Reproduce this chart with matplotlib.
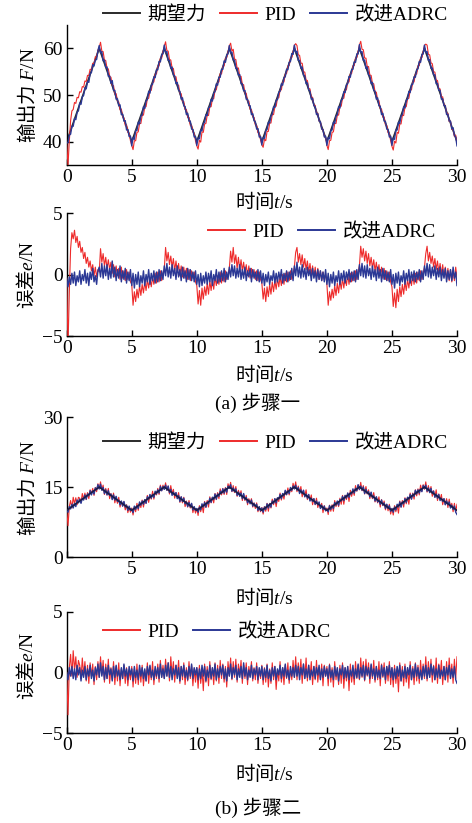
import numpy as np
import matplotlib
matplotlib.use('Agg')
from matplotlib import pyplot as plt
from matplotlib.lines import Line2D

plt.rcParams['font.family'] = ['Liberation Serif', 'Noto Sans CJK SC']
# mixed labels: plain parts use the text's own face, math parts use these
plt.rcParams['mathtext.fontset'] = 'custom'
plt.rcParams['mathtext.rm'] = 'Liberation Serif'
plt.rcParams['mathtext.it'] = 'Liberation Serif:italic'
plt.rcParams['mathtext.sf'] = 'Liberation Serif'
plt.rcParams['font.size'] = 14
plt.rcParams['axes.unicode_minus'] = True

# desired force: triangle vertices (s, N)
t_vertex = [0, 2.5, 5, 7.5, 10, 12.5, 15, 17.5, 20, 22.5, 25, 27.5, 30]
ref_step1 = [40, 60, 40, 60, 40, 60, 40, 60, 40, 60, 40, 60, 40]
ref_step2 = [10, 15, 10, 15, 10, 15, 10, 15, 10, 15, 10, 15, 10]

x_ticks = [0, 5, 10, 15, 20, 25, 30]
series_names = ['期望力', 'PID', '改进ADRC']
captions = ['(a) 步骤一', '(b) 步骤二']
force_label = r'输出力 $F\mathsf{/N}$'
error_label = r'误差$e\mathsf{/N}$'
time_label = r'时间$t\mathsf{/s}$'
CJK = 'Noto Sans CJK SC'

err_pid_1 = [
    -0.3, -5.8, -1.5, 2.1, 3.4, 2.9, 3.6, 2.6, 3.1, 2.2, 2.7, 1.8, 2.2, 1.3, 1.8, 0.9, 1.4, 0.6, 1.1, 0.3, 0.8, -0.1, 0.6, -0.2, 0.4,
    0.2, 2.1, 1.0, 1.7, 0.7, 1.4, 0.5, 1.2, 0.4, 1.0, 0.1, 0.8, -0.2, 0.7, -0.1, 0.5, -0.4, 0.6, -0.3, 0.3, -0.5, 0.4, -0.4, 0.2, -0.6,
    -0.8, -2.5, -1.4, -2.2, -1.2, -1.9, -0.9, -1.7, -0.8, -1.5, -0.6, -1.3, -0.4, -1.1, -0.3, -1.0, -0.2, -0.8, 0.1, -0.7, 0.2, -0.6, 0.3, -0.5, 0.1,
    0.4, 2.2, 1.1, 1.8, 0.8, 1.5, 0.6, 1.3, 0.3, 1.1, 0.2, 0.9, -0.1, 0.7, -0.2, 0.6, -0.3, 0.5, -0.4, 0.4, -0.5, 0.3, -0.3, 0.2, -0.6,
    -0.9, -2.4, -1.3, -2.5, -1.1, -2.0, -1.0, -1.7, -0.7, -1.6, -0.5, -1.3, -0.4, -1.2, -0.2, -0.9, -0.1, -0.8, 0.2, -0.7, 0.1, -0.6, 0.3, -0.4, 0.0,
    0.5, 1.9, 1.0, 2.2, 0.9, 1.6, 0.5, 1.4, 0.4, 1.2, 0.3, 1.0, 0.0, 0.8, -0.1, 0.7, -0.3, 0.5, -0.2, 0.4, -0.4, 0.3, -0.5, 0.2, -0.4,
    -0.7, -2.0, -1.1, -2.2, -1.0, -1.8, -0.8, -1.6, -0.6, -1.4, -0.5, -1.2, -0.3, -1.0, -0.2, -0.9, 0.0, -0.8, 0.1, -0.6, 0.2, -0.5, 0.3, -0.4, 0.1,
    0.6, 1.8, 2.2, 1.0, 1.7, 0.8, 1.6, 0.6, 1.3, 0.4, 1.1, 0.2, 0.9, 0.0, 0.7, -0.2, 0.6, -0.3, 0.5, -0.4, 0.3, -0.5, 0.2, -0.4, 0.1,
    -0.8, -2.5, -1.4, -2.1, -1.2, -1.9, -0.9, -1.7, -0.7, -1.5, -0.5, -1.2, -0.3, -1.1, -0.2, -0.9, 0.0, -0.8, 0.1, -0.6, 0.2, -0.5, 0.3, -0.4, 0.2,
    0.7, 2.3, 1.4, 2.1, 1.1, 1.9, 0.9, 1.7, 0.7, 1.4, 0.5, 1.2, 0.3, 1.0, 0.1, 0.8, -0.1, 0.6, -0.3, 0.5, -0.4, 0.3, -0.5, 0.2, -0.6,
    -1.0, -2.6, -1.5, -2.7, -1.2, -2.2, -1.0, -1.8, -0.8, -1.6, -0.6, -1.3, -0.4, -1.1, -0.2, -0.9, 0.0, -0.8, 0.1, -0.7, 0.2, -0.5, 0.3, -0.4, 0.1,
    0.6, 1.7, 2.3, 1.1, 1.8, 0.9, 1.5, 0.6, 1.3, 0.4, 1.1, 0.2, 0.9, 0.0, 0.8, -0.2, 0.6, -0.4, 0.5, -0.5, 0.4, -0.6, 0.3, -0.5, 0.6, -0.3,
]
err_adrc_1 = [
    -0.3, -1.0, -0.2, -0.8, 0.1, -0.7, 0.2, -0.9, -0.1, -0.6, 0.3, -0.8, 0.0, -0.5, 0.4, -0.7, 0.1, -0.9, 0.2, -0.4, 0.5, -0.6, -0.1, -0.8, 0.3,
    0.6, -0.2, 0.9, -0.3, 0.7, -0.1, 0.8, -0.4, 0.5, -0.3, 1.1, -0.2, 0.6, -0.5, 0.4, -0.3, 0.7, -0.6, 0.3, -0.4, 0.5, -0.7, 0.2, -0.5, 0.4,
    -0.9, 0.1, -1.1, 0.0, -0.8, 0.2, -1.0, -0.1, -0.7, 0.3, -0.9, 0.0, -0.6, 0.4, -0.8, 0.1, -0.5, 0.3, -0.7, 0.2, -0.6, 0.4, -0.5, 0.3, -0.4,
    0.7, -0.1, 0.9, -0.2, 0.6, -0.3, 0.8, -0.1, 0.5, -0.4, 0.7, -0.2, 0.4, -0.5, 0.6, -0.3, 0.3, -0.6, 0.5, -0.4, 0.4, -0.5, 0.2, -0.6, 0.3,
    -0.8, 0.0, -1.0, 0.1, -0.9, -0.1, -0.7, 0.2, -0.8, 0.1, -0.6, 0.3, -0.9, 0.0, -0.5, 0.4, -0.7, 0.2, -0.6, 0.3, -0.5, 0.5, -0.6, 0.2, -0.4,
    0.6, -0.2, 0.8, -0.1, 0.7, -0.3, 0.5, -0.2, 0.8, -0.4, 0.4, -0.3, 0.6, -0.5, 0.3, -0.2, 0.5, -0.6, 0.4, -0.3, 0.2, -0.5, 0.4, -0.6, 0.3,
    -0.7, 0.1, -0.9, 0.0, -0.6, 0.2, -0.8, -0.1, -0.5, 0.3, -0.7, 0.1, -0.6, 0.2, -0.4, 0.4, -0.7, 0.1, -0.5, 0.3, -0.6, 0.2, -0.4, 0.5, -0.5,
    0.7, -0.1, 1.0, -0.2, 0.6, -0.3, 0.8, -0.2, 0.5, -0.4, 0.6, -0.1, 0.4, -0.5, 0.5, -0.3, 0.3, -0.6, 0.4, -0.4, 0.3, -0.5, 0.2, -0.6, 0.4,
    -0.8, 0.1, -1.0, 0.0, -0.7, 0.2, -0.9, -0.1, -0.6, 0.3, -0.8, 0.1, -0.5, 0.3, -0.7, 0.2, -0.4, 0.4, -0.6, 0.2, -0.5, 0.3, -0.6, 0.4, -0.4,
    0.8, -0.1, 0.9, -0.2, 0.7, -0.3, 0.8, -0.1, 0.5, -0.4, 0.7, -0.2, 0.4, -0.5, 0.6, -0.3, 0.4, -0.6, 0.5, -0.4, 0.3, -0.5, 0.2, -0.6, 0.4,
    -0.8, 0.0, -1.1, 0.1, -0.7, 0.2, -0.9, -0.1, -0.6, 0.3, -0.8, 0.1, -0.5, 0.4, -0.7, 0.2, -0.5, 0.3, -0.6, 0.2, -0.4, 0.4, -0.6, 0.3, -0.4,
    0.7, -0.1, 0.9, -0.2, 0.8, -0.3, 0.6, -0.1, 0.7, -0.4, 0.5, -0.2, 0.6, -0.5, 0.4, -0.3, 0.5, -0.6, 0.3, -0.4, 0.4, -0.5, 0.6, -0.3, 0.2, -0.9,
]
err_pid_2 = [
    0.0, -3.5, 0.4, 1.5, -0.3, 1.8, 0.2, 1.3, -0.4, 1.0, 0.6, -0.5, 1.2, -0.2, 0.9, -0.7, 0.6, -0.9, 0.8, -0.3, 0.7, -1.0, 0.5, -0.6, 0.9,
    -0.4, 1.3, -0.2, 1.0, -0.8, 0.7, -0.5, 1.1, -0.9, 0.4, -0.6, 0.9, -1.0, 0.5, -0.7, 0.8, -1.1, 0.3, -0.5, 0.6, -0.9, 0.4, -1.1, 0.2, -0.6,
    0.5, -1.2, 0.3, -0.9, 0.7, -1.0, 0.4, -0.8, 0.6, -1.1, 0.2, -0.7, 0.8, -0.9, 0.5, -0.6, 0.9, -1.0, 0.3, -0.5, 0.7, -0.8, 1.0, -0.4, 0.6,
    -0.5, 1.1, -0.3, 0.8, -0.7, 1.3, -0.2, 0.9, -0.8, 0.6, -0.4, 1.0, -0.9, 0.5, -0.6, 0.8, -1.0, 0.4, -0.7, 0.9, -0.5, 0.6, -1.1, 0.3, -0.8,
    0.4, -1.3, 0.6, -0.9, 0.3, -1.5, 0.7, -0.8, 0.5, -1.1, 0.9, -0.6, 0.4, -1.0, 0.8, -0.7, 0.6, -0.9, 1.0, -0.5, 0.7, -0.8, 0.5, -1.2, 0.9,
    -0.3, 1.2, -0.6, 0.9, -0.4, 1.1, -0.8, 0.7, -0.2, 1.0, -0.9, 0.6, -0.5, 0.8, -1.0, 0.5, -0.3, 0.9, -0.7, 0.4, -0.6, 0.8, -0.9, 0.3, -0.5,
    0.6, -1.0, 0.4, -0.8, 0.7, -1.2, 0.3, -0.9, 0.8, -0.6, 0.5, -1.4, 0.2, -0.7, 0.9, -0.8, 0.4, -1.0, 0.6, -0.5, 0.8, -0.9, 0.3, -0.6, 1.0,
    -0.4, 1.3, -0.6, 0.8, -0.3, 1.1, -0.9, 0.7, -0.5, 1.2, -0.7, 0.6, -0.4, 0.9, -1.0, 0.5, -0.6, 1.0, -0.8, 0.4, -0.5, 0.7, -1.1, 0.6, -0.3,
    0.5, -1.1, 0.7, -0.8, 0.4, -1.2, 0.9, -0.6, 0.3, -1.0, 0.6, -0.9, 0.8, -1.3, 0.4, -0.7, 0.5, -1.5, 0.7, -0.8, 0.3, -1.0, 0.9, -0.5, 0.6,
    -0.6, 1.2, -0.4, 0.9, -0.7, 1.1, -0.3, 0.8, -0.9, 0.6, -0.5, 1.0, -0.8, 0.5, -0.6, 0.9, -1.1, 0.7, -0.4, 0.8, -0.9, 0.5, -0.7, 0.9, -1.0,
    0.4, -1.2, 0.6, -0.9, 0.3, -1.6, 0.8, -0.7, 0.5, -1.1, 0.7, -0.8, 0.4, -1.3, 0.9, -0.6, 0.5, -1.0, 0.8, -0.7, 0.6, -0.9, 1.0, -0.5, 0.7,
    -0.5, 1.3, -0.7, 0.9, -0.4, 1.1, -0.8, 0.6, -0.6, 1.2, -0.9, 0.7, -0.3, 1.0, -1.0, 0.5, -0.6, 0.9, -0.8, 1.2, -0.4, 0.7, -0.9, 1.1, -0.5, 1.3,
]
err_adrc_2 = [
    0.0, -0.6, 0.4, -0.3, 0.5, -0.5, 0.3, -0.6, 0.6, -0.2, 0.4, -0.7, 0.2, -0.4, 0.5, -0.6, 0.3, -0.3, 0.6, -0.5, 0.2, -0.7, 0.4, -0.2, 0.7,
    -0.4, 0.8, -0.3, 0.5, -0.6, 0.4, -0.5, 0.6, -0.2, 0.3, -0.7, 0.5, -0.4, 0.6, -0.3, 0.2, -0.6, 0.4, -0.5, 0.7, -0.3, 0.3, -0.6, 0.5, -0.2,
    0.3, -0.7, 0.5, -0.4, 0.2, -0.6, 0.6, -0.3, 0.4, -0.5, 0.3, -0.7, 0.5, -0.2, 0.6, -0.4, 0.2, -0.6, 0.5, -0.3, 0.4, -0.5, 0.7, -0.4, 0.3,
    -0.5, 0.6, -0.3, 0.8, -0.4, 0.5, -0.6, 0.3, -0.2, 0.6, -0.5, 0.4, -0.7, 0.5, -0.3, 0.6, -0.4, 0.2, -0.6, 0.5, -0.3, 0.7, -0.5, 0.4, -0.2,
    0.4, -0.6, 0.3, -0.5, 0.6, -0.3, 0.5, -0.7, 0.2, -0.4, 0.6, -0.5, 0.4, -0.3, 0.7, -0.6, 0.3, -0.4, 0.5, -0.2, 0.6, -0.5, 0.3, -0.7, 0.4,
    -0.3, 0.7, -0.5, 0.4, -0.2, 0.6, -0.6, 0.3, -0.4, 0.5, -0.5, 0.8, -0.3, 0.4, -0.6, 0.2, -0.4, 0.6, -0.5, 0.3, -0.2, 0.5, -0.6, 0.4, -0.3,
    0.5, -0.6, 0.3, -0.4, 0.6, -0.5, 0.2, -0.7, 0.4, -0.3, 0.5, -0.6, 0.3, -0.2, 0.6, -0.5, 0.4, -0.3, 0.7, -0.4, 0.2, -0.6, 0.5, -0.3, 0.4,
    -0.4, 0.6, -0.3, 0.5, -0.6, 0.4, -0.2, 0.7, -0.5, 0.3, -0.4, 0.6, -0.6, 0.2, -0.3, 0.5, -0.5, 0.4, -0.2, 0.6, -0.6, 0.3, -0.4, 0.5, -0.3,
    0.3, -0.5, 0.6, -0.4, 0.2, -0.6, 0.5, -0.3, 0.4, -0.7, 0.3, -0.2, 0.6, -0.5, 0.4, -0.4, 0.5, -0.6, 0.2, -0.3, 0.6, -0.5, 0.3, -0.4, 0.7,
    -0.5, 0.4, -0.3, 0.6, -0.6, 0.5, -0.2, 0.4, -0.5, 0.7, -0.3, 0.3, -0.6, 0.5, -0.4, 0.2, -0.5, 0.6, -0.3, 0.4, -0.6, 0.5, -0.2, 0.6, -0.4,
    0.4, -0.6, 0.3, -0.5, 0.5, -0.3, 0.6, -0.7, 0.2, -0.4, 0.5, -0.5, 0.4, -0.2, 0.6, -0.6, 0.3, -0.4, 0.7, -0.3, 0.4, -0.5, 0.2, -0.6, 0.5,
    -0.3, 0.6, -0.5, 0.4, -0.4, 0.7, -0.2, 0.5, -0.6, 0.3, -0.4, 0.6, -0.5, 0.2, -0.3, 0.5, -0.6, 0.4, -0.2, 0.6, -0.5, 0.3, -0.4, 0.5, -0.6, -0.9,
]

RED = '#ee2b2b'
BLUE = '#2b3895'
BLACK = '#2a2a2a'

W, H = 472, 823
fig = plt.figure(figsize=(W / 100, H / 100), dpi=100)


def box(left, top, right, bottom):
    return [left / W, 1 - bottom / H, (right - left) / W, (bottom - top) / H]


def fx(x):
    return x / W


def fy(y):
    return 1 - y / H


def style(ax, ylim, yticks):
    for s in ['top', 'right']:
        ax.spines[s].set_visible(False)
    for s in ['left', 'bottom']:
        ax.spines[s].set_linewidth(1.0)
    ax.set_xlim(0, 30)
    ax.set_ylim(*ylim)
    ax.set_xticks(x_ticks)
    ax.set_yticks(yticks)
    ax.tick_params(direction='in', length=4, width=1, pad=3)


def legend(ax, handles, labels, left, y):
    ax.legend(handles, labels, loc='center left', bbox_to_anchor=(fx(left), fy(y)),
              bbox_transform=fig.transFigure, frameon=False, ncol=len(labels),
              borderpad=0, borderaxespad=0, handlelength=1.9, handletextpad=0.4,
              columnspacing=0.7)


h_ref = Line2D([], [], color=BLACK, lw=1.4)
h_pid = Line2D([], [], color=RED, lw=1.4)
h_adrc = Line2D([], [], color=BLUE, lw=1.4)

panels = [
    (ref_step1, err_pid_1, err_adrc_1, (35, 65), [40, 50, 60], 25, 165, 213, 336),
    (ref_step2, err_pid_2, err_adrc_2, (0, 30), [0, 15, 30], 417, 557, 612, 733),
]
out_labels = [(15, 201, 95, 232, 375, 403), (443, 598, 488, 632, 773, 808)]

for k, (ref, e_pid, e_adrc, ylim, yticks, t1, b1, t2, b2) in enumerate(panels):
    leg1, xl1, yl1, leg2, xl2, cap = out_labels[k]
    tp = np.arange(len(e_pid)) / 10.0
    ta = np.arange(len(e_adrc)) / 10.0
    out_pid = np.interp(tp, t_vertex, ref) + np.array(e_pid)
    out_adrc = np.interp(ta, t_vertex, ref) + np.array(e_adrc)

    # output force
    ax = fig.add_axes(box(66.7, t1, 457, b1))
    ax.plot(t_vertex, ref, color=BLACK, lw=1.2, zorder=2)
    ax.plot(tp, out_pid, color=RED, lw=0.8, zorder=3)
    ax.plot(ta, out_adrc, color=BLUE, lw=1.0, zorder=4)
    if k == 1:
        ax.plot(t_vertex, ref, color='#1c1c40', lw=1.0, zorder=5)
    style(ax, ylim, yticks)
    if k == 1:
        ax.set_xticklabels([''] + [str(v) for v in x_ticks[1:]])
    legend(ax, [h_ref, h_pid, h_adrc], series_names, 103, leg1)
    fig.text(fx(27), fy(yl1), force_label, rotation=90, ha='center', va='center', family=CJK)
    fig.text(fx(264), fy(xl1), time_label, ha='center', va='center', family=CJK)

    # tracking error
    ax2 = fig.add_axes(box(66.7, t2, 457, b2))
    ax2.plot(tp, e_pid, color=RED, lw=0.8, zorder=3)
    ax2.plot(ta, e_adrc, color=BLUE, lw=1.0, zorder=4)
    style(ax2, (-5, 5), [-5, 0, 5])
    if k == 0:
        legend(ax2, [h_pid, h_adrc], series_names[1:], 208, leg2)
    else:
        legend(ax2, [h_pid, h_adrc], series_names[1:], 103, leg2)
    ey = (t2 + b2) / 2 if k == 0 else 666
    fig.text(fx(27), fy(ey), error_label, rotation=90, ha='center', va='center', family=CJK)
    fig.text(fx(264), fy(xl2), time_label, ha='center', va='center', family=CJK)
    fig.text(fx(258), fy(cap), captions[k], ha='center', va='center')

fig.savefig('out.png', dpi=100, facecolor='white')
